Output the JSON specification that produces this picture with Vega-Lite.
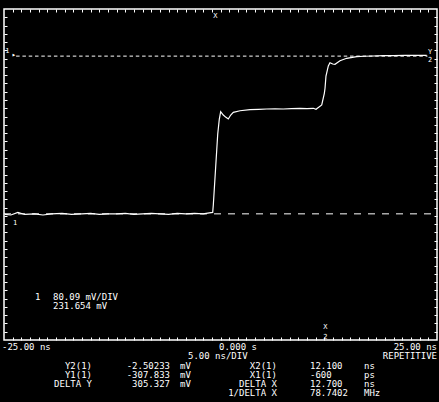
{
  "$schema": "https://vega.github.io/schema/vega-lite/v6.json",
  "width": 433,
  "height": 331,
  "autosize": {"type": "none"},
  "padding": {"left": 4, "top": 9, "right": 2, "bottom": 62},
  "background": "black",
  "config": {
    "view": {"stroke": "white", "strokeWidth": 1.5, "fill": "black"},
    "text": {"font": "DejaVu Sans Mono", "fontSize": 9, "fill": "white", "baseline": "alphabetic"}
  },
  "datasets": {
    "trace": [
      {"t": -24.9, "v": -309}, {"t": -24.2, "v": -310}, {"t": -23.4, "v": -305}, {"t": -22.6, "v": -309},
      {"t": -21.5, "v": -308}, {"t": -20.5, "v": -310}, {"t": -19.5, "v": -308}, {"t": -18.3, "v": -307},
      {"t": -17.2, "v": -309}, {"t": -16.0, "v": -308}, {"t": -15.0, "v": -307}, {"t": -14.0, "v": -309},
      {"t": -13.0, "v": -308}, {"t": -12.0, "v": -308}, {"t": -11.0, "v": -307}, {"t": -10.0, "v": -309},
      {"t": -9.0, "v": -308}, {"t": -8.0, "v": -307}, {"t": -7.0, "v": -308}, {"t": -6.0, "v": -309},
      {"t": -5.0, "v": -307}, {"t": -4.0, "v": -308}, {"t": -3.0, "v": -307}, {"t": -2.0, "v": -308},
      {"t": -1.3, "v": -306}, {"t": -0.9, "v": -305}, {"t": -0.83, "v": -290.7}, {"t": -0.32, "v": -153.3},
      {"t": -0.14, "v": -124.8}, {"t": 0.02, "v": -110.1}, {"t": 0.32, "v": -116.5}, {"t": 0.63, "v": -121.0},
      {"t": 0.9, "v": -124.2}, {"t": 1.18, "v": -116.5}, {"t": 1.48, "v": -111.3}, {"t": 2.25, "v": -108.2},
      {"t": 3.41, "v": -106.2}, {"t": 4.4, "v": -105.5}, {"t": 5.33, "v": -104.9}, {"t": 6.3, "v": -104.5},
      {"t": 7.25, "v": -104.9}, {"t": 8.2, "v": -104.0}, {"t": 9.18, "v": -103.5}, {"t": 10.0, "v": -104.0},
      {"t": 10.72, "v": -103.5}, {"t": 11.03, "v": -105.4}, {"t": 11.69, "v": -97.1}, {"t": 11.99, "v": -74.5},
      {"t": 12.07, "v": -64.8}, {"t": 12.18, "v": -41.0}, {"t": 12.45, "v": -21.6}, {"t": 12.64, "v": -15.2},
      {"t": 12.96, "v": -17.8}, {"t": 13.22, "v": -18.3}, {"t": 13.8, "v": -11.4}, {"t": 14.57, "v": -6.7},
      {"t": 15.73, "v": -3.6}, {"t": 16.6, "v": -2.8}, {"t": 17.64, "v": -2.3}, {"t": 18.8, "v": -1.5},
      {"t": 19.95, "v": -1.7}, {"t": 21.3, "v": -1.0}, {"t": 22.66, "v": -0.9}, {"t": 23.81, "v": -0.9}
    ],
    "cursors": [
      {"name": "Y1", "v": -307.833, "t0": -25, "t1": 25},
      {"name": "Y2", "v": -2.50233, "t0": -23.6, "t1": 23.9}
    ],
    "leftText": [
      {"t": -25.23, "v": -571.4, "text": "-25.00 ns"},
      {"t": -0.17, "v": -571.4, "text": "0.000 s"},
      {"t": -3.75, "v": -588.8, "text": "5.00 ns/DIV"},
      {"t": -4.68, "v": -608.1, "text": "mV"},
      {"t": -4.68, "v": -625.6, "text": "mV"},
      {"t": -4.68, "v": -643.0, "text": "mV"},
      {"t": 10.33, "v": -608.1, "text": "12.100"},
      {"t": 10.33, "v": -625.6, "text": "-600"},
      {"t": 10.33, "v": -643.0, "text": "12.700"},
      {"t": 10.33, "v": -660.4, "text": "78.7402"},
      {"t": 16.57, "v": -608.1, "text": "ns"},
      {"t": 16.57, "v": -625.6, "text": "ps"},
      {"t": 16.57, "v": -643.0, "text": "ns"},
      {"t": 16.57, "v": -660.4, "text": "MHz"},
      {"t": -21.42, "v": -474.6, "text": "1"},
      {"t": -19.34, "v": -474.6, "text": "80.09 mV/DIV"},
      {"t": -19.34, "v": -492.0, "text": "231.654 mV"}
    ],
    "rightText": [
      {"t": 25, "v": -571.4, "text": "25.00 ns"},
      {"t": 25, "v": -588.8, "text": "REPETITIVE"},
      {"t": -14.84, "v": -608.1, "text": "Y2(1)"},
      {"t": -14.84, "v": -625.6, "text": "Y1(1)"},
      {"t": -14.84, "v": -643.0, "text": "DELTA Y"},
      {"t": -5.83, "v": -608.1, "text": "-2.50233"},
      {"t": -5.83, "v": -625.6, "text": "-307.833"},
      {"t": -5.83, "v": -643.0, "text": "305.327"},
      {"t": 6.52, "v": -608.1, "text": "X2(1)"},
      {"t": 6.52, "v": -625.6, "text": "X1(1)"},
      {"t": 6.52, "v": -643.0, "text": "DELTA X"},
      {"t": 6.52, "v": -660.4, "text": "1/DELTA X"}
    ],
    "markers": [
      {"t": -0.6, "v": 71.3, "text": "X"},
      {"t": 12.1, "v": -531.0, "text": "X"},
      {"t": 12.1, "v": -550.5, "text": "2"},
      {"t": 24.2, "v": 1.6, "text": "Y"},
      {"t": 24.2, "v": -13.9, "text": "2"},
      {"t": -24.6, "v": 3.5, "text": "1"},
      {"t": -23.85, "v": -4.2, "text": "▸"},
      {"t": -23.73, "v": -329.4, "text": "1"}
    ]
  },
  "resolve": {"axis": {"x": "independent", "y": "independent"}},
  "layer": [
    {
      "data": {"name": "trace"},
      "mark": {"type": "line", "color": "white", "strokeWidth": 1.2, "interpolate": "linear"},
      "encoding": {
        "x": {"field": "t", "type": "quantitative",
          "scale": {"domain": [-25, 25], "nice": false, "zero": false},
          "axis": {"orient": "bottom", "title": null, "labels": false, "domain": false, "grid": false,
            "ticks": true, "tickColor": "white", "tickSize": -3, "tickWidth": 1,
            "values": [-24,-23,-22,-21,-20,-19,-18,-17,-16,-15,-14,-13,-12,-11,-10,-9,-8,-7,-6,-5,-4,-3,-2,-1,0,1,2,3,4,5,6,7,8,9,10,11,12,13,14,15,16,17,18,19,20,21,22,23,24]}},
        "y": {"field": "v", "type": "quantitative",
          "scale": {"domain": [-552.01, 88.71], "nice": false, "zero": false},
          "axis": {"orient": "left", "title": null, "labels": false, "domain": false, "grid": false,
            "ticks": true, "tickColor": "white", "tickSize": -3, "tickWidth": 1,
            "values": [-535.996,-519.978,-503.96,-487.942,-471.924,-455.906,-439.888,-423.87,-407.852,-391.834,-375.816,-359.798,-343.78,-327.762,-311.744,-295.726,-279.708,-263.69,-247.672,-231.654,-215.636,-199.618,-183.6,-167.582,-151.564,-135.546,-119.528,-103.51,-87.492,-71.474,-55.456,-39.438,-23.42,-7.402,8.616,24.634,40.652,56.67,72.688]}}
      }
    },
    {
      "data": {"name": "cursors"},
      "mark": {"type": "rule", "color": "white", "strokeWidth": 1},
      "encoding": {
        "x": {"field": "t0", "type": "quantitative", "axis": null},
        "x2": {"field": "t1"},
        "y": {"field": "v", "type": "quantitative", "axis": null},
        "strokeDash": {"field": "name", "type": "nominal", "legend": null,
          "scale": {"domain": ["Y1", "Y2"], "range": [[7, 7], [3.5, 2.8]]}}
      }
    },
    {
      "data": {"name": "markers"},
      "mark": {"type": "text", "align": "center", "fontSize": 7},
      "encoding": {
        "x": {"field": "t", "type": "quantitative",
          "axis": {"orient": "top", "title": null, "labels": false, "domain": false, "grid": false,
            "ticks": true, "tickColor": "white", "tickSize": -3, "tickWidth": 1,
            "values": [-24,-23,-22,-21,-20,-19,-18,-17,-16,-15,-14,-13,-12,-11,-10,-9,-8,-7,-6,-5,-4,-3,-2,-1,0,1,2,3,4,5,6,7,8,9,10,11,12,13,14,15,16,17,18,19,20,21,22,23,24]}},
        "y": {"field": "v", "type": "quantitative",
          "axis": {"orient": "right", "title": null, "labels": false, "domain": false, "grid": false,
            "ticks": true, "tickColor": "white", "tickSize": -3, "tickWidth": 1,
            "values": [-535.996,-519.978,-503.96,-487.942,-471.924,-455.906,-439.888,-423.87,-407.852,-391.834,-375.816,-359.798,-343.78,-327.762,-311.744,-295.726,-279.708,-263.69,-247.672,-231.654,-215.636,-199.618,-183.6,-167.582,-151.564,-135.546,-119.528,-103.51,-87.492,-71.474,-55.456,-39.438,-23.42,-7.402,8.616,24.634,40.652,56.67,72.688]}},
        "text": {"field": "text"}
      }
    },
    {
      "data": {"name": "leftText"},
      "mark": {"type": "text", "align": "left"},
      "encoding": {
        "x": {"field": "t", "type": "quantitative", "axis": null},
        "y": {"field": "v", "type": "quantitative", "axis": null},
        "text": {"field": "text"}
      }
    },
    {
      "data": {"name": "rightText"},
      "mark": {"type": "text", "align": "right"},
      "encoding": {
        "x": {"field": "t", "type": "quantitative", "axis": null},
        "y": {"field": "v", "type": "quantitative", "axis": null},
        "text": {"field": "text"}
      }
    }
  ]
}
